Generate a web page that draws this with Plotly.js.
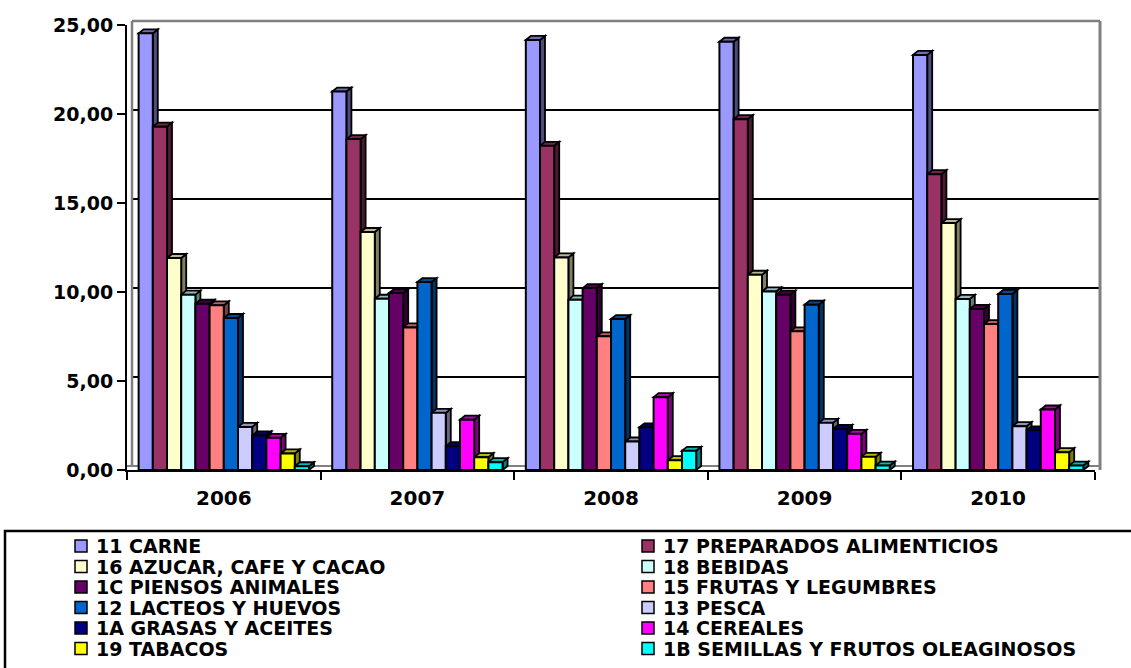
<!DOCTYPE html>
<html>
<head>
<meta charset="utf-8">
<script src="https://cdn.plot.ly/plotly-3.0.1.min.js"></script>
<style>html,body{margin:0;padding:0;background:#fff;}#chart{width:1131px;height:668px;}</style>
</head>
<body>
<div id="chart"></div>
<script>
// ---- data ----
const years = ["2006", "2007", "2008", "2009", "2010"];
const seriesNames = [
  "11 CARNE", "17 PREPARADOS ALIMENTICIOS", "16 AZUCAR, CAFE Y CACAO", "18 BEBIDAS",
  "1C PIENSOS ANIMALES", "15 FRUTAS Y LEGUMBRES", "12 LACTEOS Y HUEVOS", "13 PESCA",
  "1A GRASAS Y ACEITES", "14 CEREALES", "19 TABACOS", "1B SEMILLAS Y FRUTOS OLEAGINOSOS"
];
const carne      = [24.53, 21.26, 24.16, 24.06, 23.32];
const preparados = [19.29, 18.59, 18.21, 19.71, 16.62];
const azucar     = [11.91, 13.37, 11.94, 10.97, 13.87];
const bebidas    = [9.85, 9.62, 9.57, 10.03, 9.61];
const piensos    = [9.34, 9.94, 10.22, 9.85, 9.05];
const frutas     = [9.25, 8.01, 7.51, 7.79, 8.20];
const lacteos    = [8.54, 10.56, 8.48, 9.29, 9.89];
const pesca      = [2.42, 3.21, 1.60, 2.65, 2.46];
const grasas     = [1.94, 1.34, 2.40, 2.31, 2.23];
const cereales   = [1.81, 2.83, 4.09, 2.03, 3.40];
const tabacos    = [0.93, 0.72, 0.55, 0.74, 1.00];
const semillas   = [0.21, 0.44, 1.08, 0.25, 0.25];
const seriesValues = [carne, preparados, azucar, bebidas, piensos, frutas, lacteos, pesca, grasas, cereales, tabacos, semillas];
const yTicks = [0, 5, 10, 15, 20, 25];

// ---- styles ----
const colors = ["#9999FF", "#993366", "#FFFFCC", "#CCFFFF", "#660066", "#FF8080",
                "#0066CC", "#CCCCFF", "#000080", "#FF00FF", "#FFFF00", "#00FFFF"];
const FONT = "DejaVu Sans, Liberation Sans, Arial, sans-serif";
const W = 1131, H = 668;
const mL = 127, mR = 36, mT = 25, mB = 198;
const plotW = W - mL - mR, plotH = H - mT - mB;
const yMax = 25;
const bargap = 0.12;
const nS = seriesNames.length;
const catPx = plotW / years.length;
const dxPx = 5, dyPx = 4;
const dx = dxPx / catPx;                 // in category units
const dy = dyPx * yMax / plotH;          // in y units

function shade(hex, f) {
  const n = parseInt(hex.slice(1), 16);
  const r = Math.round(((n >> 16) & 255) * f), g = Math.round(((n >> 8) & 255) * f), b = Math.round((n & 255) * f);
  return "rgb(" + r + "," + g + "," + b + ")";
}

const traces = seriesNames.map((name, j) => ({
  type: "bar", name: name, x: years, y: seriesValues[j],
  marker: { color: colors[j], line: { color: "#000", width: 2 } },
  showlegend: false, hoverinfo: "name+y"
}));

const shapes = [];
// back-wall gridlines (offset by depth)
yTicks.forEach(v => {
  if (v === 0) return;
  shapes.push({ type: "line", xref: "paper", yref: "paper",
    x0: dxPx / plotW, x1: 1 + dxPx / plotW,
    y0: v / yMax + dyPx / plotH, y1: v / yMax + dyPx / plotH,
    line: { color: v === yMax ? "#808080" : "#000", width: v === yMax ? 2.5 : 2 }, layer: "below" });
});
// floor back edge
shapes.push({ type: "line", xref: "paper", yref: "paper", x0: 0, x1: 1 + dxPx / plotW,
  y0: dyPx / plotH, y1: dyPx / plotH, line: { color: "#808080", width: 2 }, layer: "below" });
// wall left and right edges
shapes.push({ type: "line", xref: "paper", yref: "paper", x0: dxPx / plotW, x1: dxPx / plotW,
  y0: dyPx / plotH, y1: 1 + dyPx / plotH, line: { color: "#808080", width: 2.5 }, layer: "below" });
shapes.push({ type: "line", xref: "paper", yref: "paper", x0: 1 + dxPx / plotW, x1: 1 + dxPx / plotW,
  y0: 0, y1: 1 + dyPx / plotH, line: { color: "#808080", width: 3 }, layer: "below" });

// 3D depth faces for each bar
const groupW = 1 - bargap, barW = groupW / nS;
seriesValues.forEach((vals, j) => {
  vals.forEach((v, i) => {
    const x0 = i - groupW / 2 + j * barW, x1 = x0 + barW;
    shapes.push({ type: "path", xref: "x", yref: "y", layer: "between",
      path: `M${x1},0 L${x1 + dx},${dy} L${x1 + dx},${v + dy} L${x1},${v} Z`,
      fillcolor: shade(colors[j], 0.5), line: { color: "#000", width: 1.8 } });
    shapes.push({ type: "path", xref: "x", yref: "y", layer: "between",
      path: `M${x0},${v} L${x0 + dx},${v + dy} L${x1 + dx},${v + dy} L${x1},${v} Z`,
      fillcolor: shade(colors[j], 0.72), line: { color: "#000", width: 1.8 } });
  });
});

// legend box
const pxToPaperX = px => (px - mL) / plotW;
const pxToPaperY = py => (H - mB - py) / plotH;
shapes.push({ type: "rect", xref: "paper", yref: "paper",
  x0: pxToPaperX(5), x1: pxToPaperX(1140), y0: pxToPaperY(531), y1: pxToPaperY(700),
  line: { color: "#000", width: 2.5 }, fillcolor: "rgba(0,0,0,0)", layer: "above" });

// legend entries: 2 columns, row-major order
const annotations = [];
const rowY = [546, 566.5, 587, 607.5, 628, 648.5];
const colSwatchX = [75, 642], colTextX = [94, 661];
seriesNames.forEach((name, j) => {
  const col = j % 2, row = Math.floor(j / 2);
  const cy = rowY[row];
  shapes.push({ type: "rect", xref: "paper", yref: "paper",
    x0: pxToPaperX(colSwatchX[col]), x1: pxToPaperX(colSwatchX[col] + 12),
    y0: pxToPaperY(cy - 6), y1: pxToPaperY(cy + 6),
    fillcolor: colors[j], line: { color: "#000", width: 1.5 }, layer: "above" });
  annotations.push({ xref: "paper", yref: "paper", x: pxToPaperX(colTextX[col]), y: pxToPaperY(cy),
    xanchor: "left", yanchor: "middle", showarrow: false, text: name,
    font: { family: FONT, size: 19, color: "#000", weight: "bold" } });
});

const layout = {
  width: W, height: H,
  margin: { l: mL, r: mR, t: mT, b: mB, pad: 0 },
  paper_bgcolor: "#fff", plot_bgcolor: "rgba(0,0,0,0)",
  separators: ",.",
  barmode: "group", bargap: bargap, bargroupgap: 0,
  showlegend: false,
  xaxis: {
    type: "category", range: [-0.5, years.length - 0.5],
    showline: true, linecolor: "#000", linewidth: 2,
    ticks: "outside", tickson: "boundaries", ticklen: 8, tickwidth: 2, tickcolor: "#000",
    showgrid: false, zeroline: false, ticklabelstandoff: 9,
    tickfont: { family: FONT, size: 20, color: "#000", weight: "bold" }
  },
  yaxis: {
    range: [0, yMax], tickvals: yTicks, tickformat: ".2f",
    showline: true, linecolor: "#000", linewidth: 2,
    ticks: "outside", ticklen: 8, tickwidth: 2, tickcolor: "#000",
    showgrid: false, zeroline: false,
    tickfont: { family: FONT, size: 19, color: "#000", weight: "bold" }
  },
  shapes: shapes,
  annotations: annotations
};

Plotly.newPlot("chart", traces, layout, { displayModeBar: false, staticPlot: true });
</script>
</body>
</html>
